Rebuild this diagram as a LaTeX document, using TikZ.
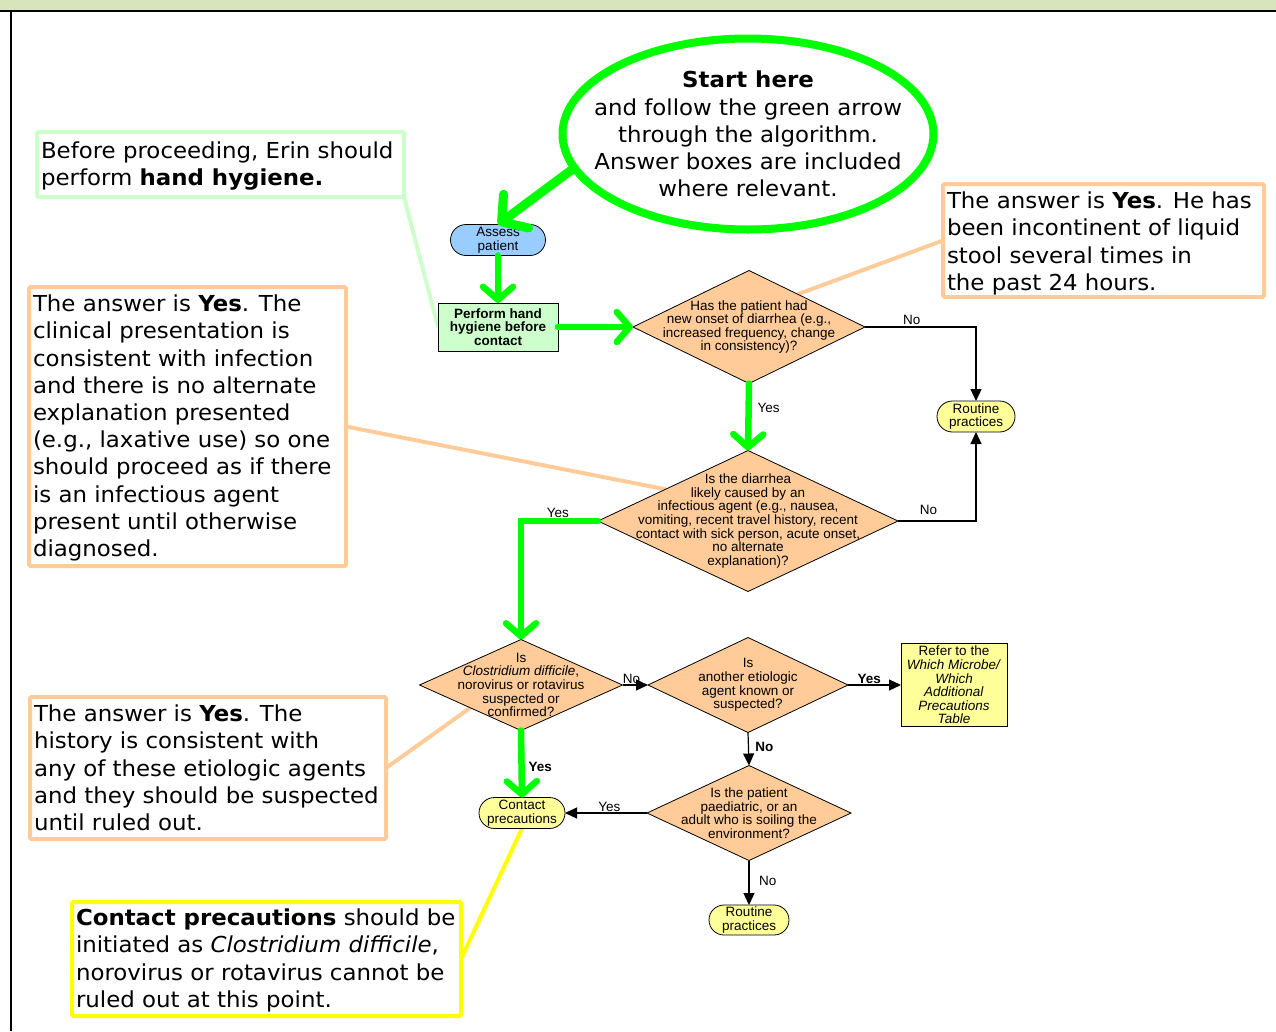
\documentclass[tikz,border=0pt]{standalone}
\usepackage{fontspec}
\newfontfamily\vfont[FakeStretch=1.04]{DejaVu Sans}
\newfontfamily\afont{Liberation Sans}
\usetikzlibrary{shapes.geometric,shapes.misc,arrows.meta,calc,backgrounds}
\definecolor{hdr}{RGB}{216,228,188}
\definecolor{gr}{RGB}{0,255,0}
\definecolor{lgr}{RGB}{204,255,204}
\definecolor{peach}{RGB}{255,204,153}
\definecolor{lyel}{RGB}{255,255,153}
\definecolor{blu}{RGB}{153,204,255}
\definecolor{yel}{RGB}{255,255,0}
\begin{document}
\begin{tikzpicture}[x=1pt,y=-1pt,
  every node/.style={inner sep=0pt, outer sep=0pt},
  dia/.style={diamond, draw=black, line width=0.8pt, fill=peach},
  dtext/.style={align=center, font=\afont\fontsize{13.5}{13.6}\selectfont},
  term/.style={rounded rectangle, draw=black, line width=0.8pt, fill=lyel, align=center, font=\afont\fontsize{13.5}{13.8}\selectfont},
  ann/.style={draw, line width=4pt, rounded corners=1.5pt, fill=white},
  anntext/.style={align=left, anchor=north west, font=\vfont\fontsize{22}{27.2}\selectfont},
  gflow/.style={draw=gr, line width=6.5pt, line cap=round, -{Straight Barb[length=13pt,width=30pt,round]}},
  bflow/.style={draw=black, line width=1.2pt, -{Triangle[length=12pt,width=11pt]}},
  lbl/.style={font=\afont\fontsize{13.5}{13.5}\selectfont},
  blbl/.style={font=\afont\bfseries\fontsize{13.5}{13.5}\selectfont},
  link/.style={line width=4pt},
]
\useasboundingbox (0,0) rectangle (1276,1031);
% header
\fill[hdr] (0,0) rectangle (1276,10);
\draw[line width=2.5pt] (0,11) -- (1276,11);
\draw[line width=2.5pt] (11,11) -- (11,1031);

% start ellipse
\node[ellipse, draw=gr, line width=8pt, minimum width=371, minimum height=191] (start) at (748,134) {};
\node[align=center, font=\vfont\fontsize{22}{27.2}\selectfont] (startt) at (748,134)
  {\textbf{Start here}\\and follow the green arrow\\through the algorithm.\\Answer boxes are included\\where relevant.};

% flowchart nodes
\node[term, fill=blu, minimum width=95, minimum height=31] (ap) at (498,240) {Assess\\patient};
\node[rectangle, draw=black, line width=0.8pt, fill=lgr, minimum width=120, minimum height=48, align=center,
  font=\afont\bfseries\fontsize{13.5}{13.8}\selectfont] (hh) at (498,327) {Perform hand\\hygiene before\\contact};
\node[dia, minimum width=232, minimum height=113] (d1) at (749,327) {};
\node[dtext] (d1t) at (d1) {Has the patient had\\new onset of diarrhea (e.g.,\\increased frequency, change\\in consistency)?};
\node[term, minimum width=78, minimum height=31] (r1) at (976,416.5) {Routine\\practices};
\node[dia, minimum width=300, minimum height=141] (d2) at (748,521) {};
\node[dtext] (d2t) at (d2) {Is the diarrhea\\likely caused by an\\infectious agent (e.g., nausea,\\vomiting, recent travel history, recent\\contact with sick person, acute onset,\\no alternate\\explanation)?};
\node[dia, minimum width=203, minimum height=91] (d3) at (521,685) {};
\node[dtext] (d3t) at (d3) {Is\\\textit{Clostridium difficile},\\norovirus or rotavirus\\suspected or\\confirmed?};
\node[dia, minimum width=200, minimum height=95] (d4) at (748,685) {};
\node[dtext] (d4t) at (d4) {Is\\another etiologic\\agent known or\\suspected?};
\node[rectangle, draw=black, line width=0.8pt, fill=lyel, minimum width=106, minimum height=83, align=center,
  font=\afont\fontsize{13.5}{13.6}\selectfont] (ref) at (954,685)
  {Refer to the\\\textit{Which Microbe/}\\\textit{Which}\\\textit{Additional}\\\textit{Precautions}\\\textit{Table}};
\node[dia, minimum width=204, minimum height=95] (d5) at (749,813) {};
\node[dtext] (d5t) at (d5) {Is the patient\\paediatric, or an\\adult who is soiling the\\environment?};
\node[term, minimum width=86, minimum height=31] (cp) at (522,813) {Contact\\precautions};
\node[term, minimum width=80, minimum height=30] (r2) at (749,920) {Routine\\practices};

% annotation boxes
\node[ann, draw=lgr, minimum width=367, minimum height=65] (a1) at (220.5,164.5) {};
\node[anntext] (a1t) at ([xshift=4pt,yshift=-10pt]a1.north west) {Before proceeding, Erin should\\perform \textbf{hand hygiene.}};
\node[ann, draw=peach, minimum width=317, minimum height=279] (a2) at (187.5,426.5) {};
\node[anntext] (a2t) at ([xshift=4pt,yshift=-8pt]a2.north west) {The answer is \textbf{Yes}. The\\clinical presentation is\\consistent with infection\\and there is no alternate\\explanation presented\\(e.g., laxative use) so one\\should proceed as if there\\is an infectious agent\\present until otherwise\\diagnosed.};
\node[ann, draw=peach, minimum width=321, minimum height=113] (a3) at (1103.5,240.5) {};
\node[anntext] (a3t) at ([xshift=4pt,yshift=-8pt]a3.north west) {The answer is \textbf{Yes}. He has\\been incontinent of liquid\\stool several times in\\the past 24 hours.};
\node[ann, draw=peach, minimum width=356, minimum height=142] (a4) at (208,768) {};
\node[anntext] (a4t) at ([xshift=4pt,yshift=-8pt]a4.north west) {The answer is \textbf{Yes}. The\\history is consistent with\\any of these etiologic agents\\and they should be suspected\\until ruled out.};
\node[ann, draw=yel, minimum width=389, minimum height=114] (a5) at (266.5,959) {};
\node[anntext] (a5t) at ([xshift=4pt,yshift=-7pt]a5.north west) {\textbf{Contact precautions} should be\\initiated as \textit{Clostridium difficile},\\norovirus or rotavirus cannot be\\ruled out at this point.};

% annotation links
\begin{scope}[on background layer]
\draw[link, draw=lgr] (a1.south east) -- (hh.west);
\draw[link, draw=peach] (a2.east) -- ($(d2.west)!0.45!(d2.north)$);
\draw[link, draw=peach] (a3.west) -- ($(d1.north)!0.42!(d1.east)$);
\draw[link, draw=peach] (a4.east) -- ($(d3.west)!0.5!(d3.south)$);
\draw[link, draw=yel] (a5.east) -- (cp.south);
\end{scope}

% flow connectors
\draw[draw=gr, line width=9pt, line cap=round, -{Straight Barb[length=18pt,width=42pt,round]}] (start.191) -- (ap.north);
\draw[gflow] (ap.south) -- (hh.north);
\draw[gflow] (hh.east) -- (d1.west);
\draw[bflow] (d1.east) -| node[lbl, pos=0.21, anchor=base, yshift=3pt] (l1) {No} (r1.north);
\draw[gflow] (d1.south) -- node[lbl, pos=0.37, anchor=west, xshift=9pt] (l2) {Yes} (d2.north);
\draw[bflow] (d2.east) -| node[lbl, pos=0.195, anchor=base, yshift=7pt] (l3) {No} (r1.south);
\draw[gflow] (d2.west) -| node[lbl, pos=0.26, anchor=base, yshift=3.5pt] (l4) {Yes} (d3.north);
\draw[bflow] (d3.east) -- node[lbl, pos=0.35, anchor=base, yshift=2pt] (l5) {No} (d4.west);
\draw[bflow] (d4.east) -- node[blbl, pos=0.4, anchor=base, yshift=2pt] (l6) {Yes} (ref.west);
\draw[bflow] (d4.south) -- node[blbl, pos=0.45, anchor=west, xshift=7pt] (l7) {No} (d5.north);
\draw[gflow] (d3.south) -- node[blbl, pos=0.55, anchor=west, xshift=7pt] (l8) {Yes} (cp.north);
\draw[bflow] (d5.west) -- node[lbl, pos=0.46, anchor=base, yshift=2pt] (l9) {Yes} (cp.east);
\draw[bflow] (d5.south) -- node[lbl, pos=0.45, anchor=west, xshift=10pt] (l10) {No} (r2.north);
\end{tikzpicture}
\end{document}
